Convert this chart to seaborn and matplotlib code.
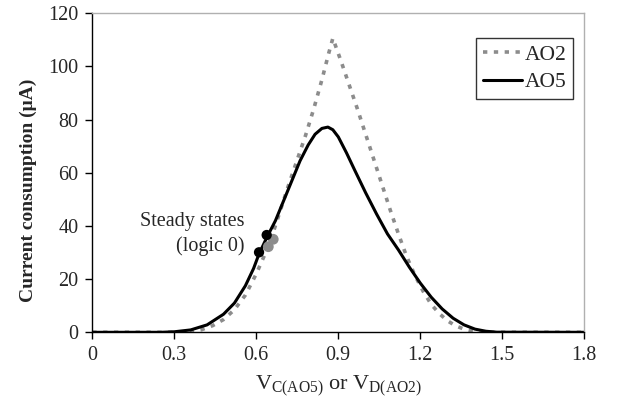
import numpy as np
import pandas as pd
import matplotlib
matplotlib.use("Agg")
import matplotlib.pyplot as plt
import seaborn as sns

# AO5 (solid black)
ao5_x = [0.0, 0.25, 0.30, 0.36, 0.42, 0.48, 0.52, 0.56, 0.59, 0.61, 0.64, 0.67, 0.70, 0.73, 0.76, 0.79,
         0.815, 0.84, 0.862, 0.88, 0.90, 0.93, 0.96, 1.00, 1.04, 1.08, 1.12, 1.16, 1.20, 1.24, 1.28,
         1.32, 1.36, 1.40, 1.44, 1.48, 1.8]
ao5_y = [0.0, 0.0, 0.2, 0.9, 2.8, 6.8, 11.0, 17.5, 24.0, 29.5, 36.0, 42.0, 49.5, 57.0, 64.5, 70.5,
         74.5, 76.7, 77.2, 76.2, 73.5, 67.5, 61.0, 52.5, 44.5, 37.0, 31.0, 24.5, 18.5, 13.2, 8.8,
         5.3, 2.8, 1.2, 0.4, 0.05, 0.0]

# AO2 (dashed grey)
ao2_x = [0.0, 0.30, 0.35, 0.40, 0.44, 0.48, 0.52, 0.56, 0.60, 0.63, 0.66, 0.69, 0.72, 0.75, 0.78,
         0.81, 0.84, 0.865, 0.88, 0.91, 0.94, 0.97, 1.00, 1.03, 1.06, 1.09, 1.12, 1.15, 1.18, 1.21,
         1.24, 1.27, 1.30, 1.33, 1.36, 1.40, 1.43, 1.8]
ao2_y = [0.0, 0.0, 0.2, 1.0, 2.5, 4.8, 8.5, 14.0, 22.0, 29.0, 37.0, 46.5, 56.0, 65.0, 74.0,
         84.0, 95.0, 105.0, 110.6, 102.0, 93.0, 84.0, 74.5, 65.0, 55.5, 46.0, 37.0, 28.5, 21.5, 15.5,
         10.5, 7.0, 4.3, 2.4, 1.2, 0.3, 0.0, 0.0]

# Steady states (logic 0)
ss5_x = [0.61, 0.638]
ss5_y = [30.1, 36.6]
ss2_x = [0.644, 0.662]
ss2_y = [32.2, 35.0]

x_ticks = [0, 0.3, 0.6, 0.9, 1.2, 1.5, 1.8]
x_tick_labels = ["0", "0.3", "0.6", "0.9", "1.2", "1.5", "1.8"]
y_ticks = [0, 20, 40, 60, 80, 100, 120]

sns.set_style("white")
plt.rcParams['font.family'] = ['Liberation Serif', 'DejaVu Serif']
plt.rcParams['mathtext.fontset'] = 'custom'
plt.rcParams['mathtext.rm'] = 'Liberation Serif'
plt.rcParams['mathtext.it'] = 'Liberation Serif:italic'

fig = plt.figure(figsize=(6.17, 4.01), dpi=100)
ax = fig.add_axes([0.1496, 0.1713, 0.7974, 0.7955])

df2 = pd.DataFrame({"x": ao2_x, "y": ao2_y})
df5 = pd.DataFrame({"x": ao5_x, "y": ao5_y})
sns.lineplot(data=df2, x="x", y="y", ax=ax, color="#8c8c8c", linewidth=2.6,
             linestyle=(0, (1.2, 1.8)), label="AO2", sort=False)
sns.lineplot(data=df5, x="x", y="y", ax=ax, color="black", linewidth=2.2,
             label="AO5", sort=False)

sns.scatterplot(x=ss2_x, y=ss2_y, ax=ax, color="#8c8c8c", s=60, edgecolor="none", zorder=5)
sns.scatterplot(x=ss5_x, y=ss5_y, ax=ax, color="black", s=55, edgecolor="none", zorder=6)

ax.text(0.556, 41.8, "Steady states", ha="right", va="center", fontsize=14.5)
ax.text(0.556, 32.4, "(logic 0)", ha="right", va="center", fontsize=14.5)

ax.set_xlim(0, 1.8)
ax.set_ylim(0, 120)
ax.set_xticks(x_ticks)
ax.set_xticklabels(x_tick_labels)
ax.set_yticks(y_ticks)
ax.tick_params(axis="both", labelsize=14.5, direction="out", length=5, width=1,
               color="black", bottom=True, left=True, pad=5)

for s in ["left", "bottom"]:
    ax.spines[s].set_color("black")
    ax.spines[s].set_linewidth(1.0)
for s in ["top", "right"]:
    ax.spines[s].set_color("#b0b0b0")
    ax.spines[s].set_linewidth(1.0)

ax.set_xlabel(r"V$_{\mathrm{C(AO5)}}$ or V$_{\mathrm{D(AO2)}}$", fontsize=16, labelpad=6)
ax.set_ylabel("Current consumption (\u03bcA)", fontsize=14, fontweight="bold")
ax.yaxis.set_label_coords(-0.113, 0.445)

leg = ax.legend(loc="upper right", bbox_to_anchor=(0.977, 0.922), fontsize=15.5,
                frameon=True, fancybox=False, edgecolor="black", handlelength=1.8,
                handletextpad=0.15, borderpad=0.3, labelspacing=0.35, borderaxespad=0)
leg.get_frame().set_linewidth(1.0)

fig.savefig("out.png", dpi=100)
